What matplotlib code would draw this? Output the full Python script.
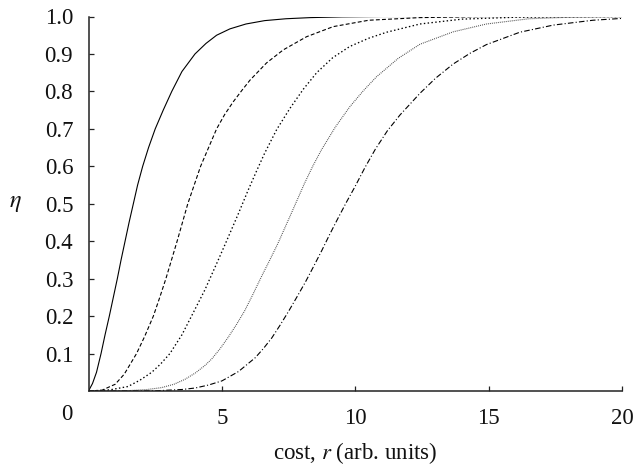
import matplotlib
matplotlib.use("Agg")
import matplotlib.pyplot as plt

# ---- data ----
x_solid = [0, 0.15, 0.3, 0.47, 0.62, 0.78, 0.93, 1.08, 1.22, 1.37, 1.52, 1.68, 1.84, 2.03,
           2.25, 2.5, 2.8, 3.12, 3.5, 3.99, 4.4, 4.8, 5.3, 5.9, 6.6, 7.4, 8.3, 9.5, 11, 20]
y_solid = [0, 0.02, 0.05, 0.10, 0.15, 0.20, 0.25, 0.30, 0.35, 0.40, 0.45, 0.50, 0.55, 0.60,
           0.65, 0.70, 0.75, 0.80, 0.853, 0.90, 0.928, 0.95, 0.967, 0.98, 0.989, 0.994, 0.997,
           0.999, 1.0, 1.0]

x_dash = [0, 0.5, 1.0, 1.34, 1.8, 2.1, 2.43, 2.67, 2.9, 3.11, 3.32, 3.52, 3.72, 3.96, 4.2,
          4.5, 4.8, 5.1, 5.42, 5.75, 6.05, 6.67, 7.3, 8.17, 9.17, 10.5, 12.4, 15, 20]
y_dash = [0, 0.002, 0.018, 0.045, 0.10, 0.145, 0.20, 0.25, 0.30, 0.35, 0.40, 0.45, 0.50,
          0.55, 0.60, 0.65, 0.70, 0.738, 0.772, 0.803, 0.83, 0.876, 0.911, 0.946, 0.973,
          0.99, 0.997, 1.0, 1.0]

x_dot = [0, 0.8, 1.48, 1.93, 2.37, 2.7, 3.05, 3.5, 3.86, 4.36, 4.85, 5.2, 5.6, 5.98, 6.3,
         6.6, 7.05, 7.55, 8.05, 8.55, 9.15, 9.79, 10.5, 11.17, 12.42, 14, 16, 20]
y_dot = [0, 0.003, 0.012, 0.029, 0.05, 0.072, 0.10, 0.15, 0.20, 0.27, 0.348, 0.405, 0.471,
         0.536, 0.588, 0.635, 0.698, 0.755, 0.806, 0.85, 0.89, 0.92, 0.942, 0.958, 0.98,
         0.993, 0.998, 1.0]

x_fine = [0, 1.5, 2.2, 2.74, 3.2, 3.61, 4.0, 4.36, 4.61, 4.92, 5.23, 5.54, 5.85, 6.16, 6.47,
          6.78, 7.09, 7.59, 8.09, 8.4, 8.72, 9.25, 9.79, 10.3, 10.79, 11.6, 12.42, 13.66,
          14.91, 16.5, 18, 20]
y_fine = [0, 0.001, 0.004, 0.009, 0.018, 0.031, 0.048, 0.068, 0.085, 0.112, 0.143, 0.177,
          0.214, 0.258, 0.304, 0.348, 0.393, 0.473, 0.554, 0.6, 0.643, 0.705, 0.759, 0.802,
          0.839, 0.888, 0.926, 0.959, 0.98, 0.994, 0.998, 1.0]

x_dd = [0, 2.5, 3.5, 4.0, 4.5, 5.0, 5.62, 6.25, 6.56, 6.87, 7.18, 7.49, 7.8, 8.12, 8.43,
        8.74, 9.05, 9.36, 9.67, 9.98, 10.36, 10.75, 11.2, 11.67, 12.42, 13.0, 13.66, 14.3,
        14.91, 16.16, 17.41, 18.9, 20]
y_dd = [0, 0.0005, 0.004, 0.008, 0.016, 0.027, 0.052, 0.089, 0.114, 0.142, 0.176, 0.212,
        0.25, 0.29, 0.332, 0.375, 0.42, 0.463, 0.505, 0.545, 0.597, 0.646, 0.695, 0.737,
        0.795, 0.835, 0.873, 0.902, 0.925, 0.958, 0.977, 0.99, 0.995]

y_ticks = [0.1, 0.2, 0.3, 0.4, 0.5, 0.6, 0.7, 0.8, 0.9, 1.0]
y_ticklabels = ["0.1", "0.2", "0.3", "0.4", "0.5", "0.6", "0.7", "0.8", "0.9", "1.0"]
x_ticks = [5, 10, 15, 20]
x_ticklabels = ["5", "10", "15", "20"]

plt.rcParams["font.family"] = ["Liberation Serif", "DejaVu Serif"]
plt.rcParams["mathtext.fontset"] = "stix"

fig = plt.figure(figsize=(6.36, 4.68), dpi=100)
ax = fig.add_axes([88.5 / 636, 1 - 391 / 468, (622.3 - 88.5) / 636, (391 - 16.5) / 468])

lw = 0.8
ax.plot(x_solid, y_solid, color="black", lw=lw, linestyle="-")
ax.plot(x_dash, y_dash, color="black", lw=lw, linestyle=(0, (3.5, 2.0)))
ax.plot(x_dot, y_dot, color="black", lw=0.95, linestyle=(0, (1.1, 1.8)))
ax.plot(x_fine, y_fine, color="#444444", lw=lw, linestyle=(0, (0.8, 1.0)))
ax.plot(x_dd, y_dd, color="black", lw=lw, linestyle=(0, (5.0, 2.0, 1.0, 2.0)))

ax.set_xlim(0, 20)
ax.set_ylim(0, 1.0)
ax.set_xticks(x_ticks)
ax.set_xticklabels(x_ticklabels)
ax.set_yticks(y_ticks)
ax.set_yticklabels(y_ticklabels)

for s in ["top", "right"]:
    ax.spines[s].set_visible(False)
for s in ["left", "bottom"]:
    ax.spines[s].set_linewidth(1.1)
    ax.spines[s].set_color("#222222")

fs = 16.5
ax.tick_params(axis="both", direction="in", length=3.5, width=0.9, color="#222222",
               labelsize=fs, labelcolor="#111111")
ax.tick_params(axis="x", pad=12)
ax.tick_params(axis="y", pad=11)

ax.annotate("0", xy=(0, 0), xycoords="data", xytext=(-15.5, -17.0),
            textcoords="offset points", ha="center", va="center", fontsize=fs,
            color="#111111")

fig.text(355 / 636, 1 - 453 / 468, "cost, $r$ (arb. units)", ha="center", va="center",
         fontsize=fs, color="#111111")
fig.text(15 / 636, 1 - 204 / 468, "$\\eta$", ha="center", va="center", fontsize=fs + 1,
         color="#111111")

fig.savefig("out.png", dpi=100)
